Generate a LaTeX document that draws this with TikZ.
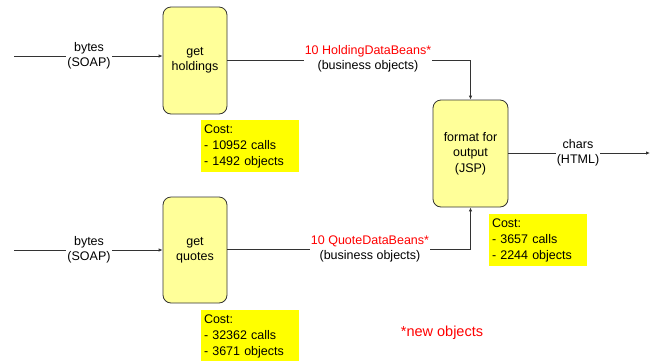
\documentclass[tikz,border=0pt]{standalone}
\usepackage{fontspec}
\setmainfont{Liberation Sans}
\usetikzlibrary{arrows.meta}
\definecolor{boxfill}{HTML}{FFFF99}
\definecolor{costfill}{HTML}{FFFF00}
\definecolor{linegray}{HTML}{333333}
\definecolor{redtext}{HTML}{FF0000}
\begin{document}
\begin{tikzpicture}[x=1pt,y=-1pt,
  procbox/.style={draw=linegray, line width=0.8pt, fill=boxfill, rounded corners=8pt, align=center, font=\fontsize{12.5}{15.5}\selectfont, inner sep=0pt},
  costbox/.style={fill=costfill, align=left, font=\fontsize{12.5}{16}\selectfont, inner sep=0pt, text width=92pt},
  lbl/.style={fill=white, align=center, font=\fontsize{12.5}{15.5}\selectfont, inner sep=1pt},
  conn/.style={draw=linegray, line width=0.8pt, -{Latex[length=4pt,width=3.5pt]}}
]
\useasboundingbox (0,0) rectangle (654,360);

% process boxes
\node[procbox, minimum width=64pt, minimum height=107pt] (hold) at (195,60.5) {get\\holdings};
\node[procbox, minimum width=64pt, minimum height=106pt] (quot) at (195,250) {get\\quotes};
\node[procbox, minimum width=75pt, minimum height=107pt] (fmt) at (470.5,153.5) {format for\\output\\(JSP)};

% cost boxes
\node[costbox, minimum width=98pt, minimum height=52pt] (c1) at (250,146) {Cost:\\- 10952 calls\\- 1492 objects};
\node[costbox, minimum width=98pt, minimum height=52pt] (c2) at (250,336) {Cost:\\- 32362 calls\\- 3671 objects};
\node[costbox, minimum width=98pt, minimum height=52pt] (c3) at (538,240) {Cost:\\- 3657 calls\\- 2244 objects};

% connectors
\coordinate (in1) at (14,56);
\coordinate (in2) at (14,250);
\coordinate (out) at (650,153);
\draw[conn] (in1) -- (in1 -| hold.west);
\draw[conn] (in2) -- (in2 -| quot.west);
\draw[conn] (fmt.east |- out) -- (out);
\draw[conn] (hold.east) -| (fmt.north);
\draw[conn] (quot.east |- 0,249) -| (fmt.south);

% labels
\node[lbl] (l1) at (89,56) {bytes\\(SOAP)};
\node[lbl] (l2) at (89,250) {bytes\\(SOAP)};
\node[lbl] (l3) at (578,153) {chars\\(HTML)};
\node[lbl] (l4) at (368,59) {\textcolor{redtext}{10 HoldingDataBeans*}\\(business objects)};
\node[lbl] (l5) at (370,249) {\textcolor{redtext}{10 QuoteDataBeans*}\\(business objects)};
\node[font=\fontsize{14.5}{16}\selectfont, text=redtext] (note) at (442,333) {*new objects};
\end{tikzpicture}
\end{document}
